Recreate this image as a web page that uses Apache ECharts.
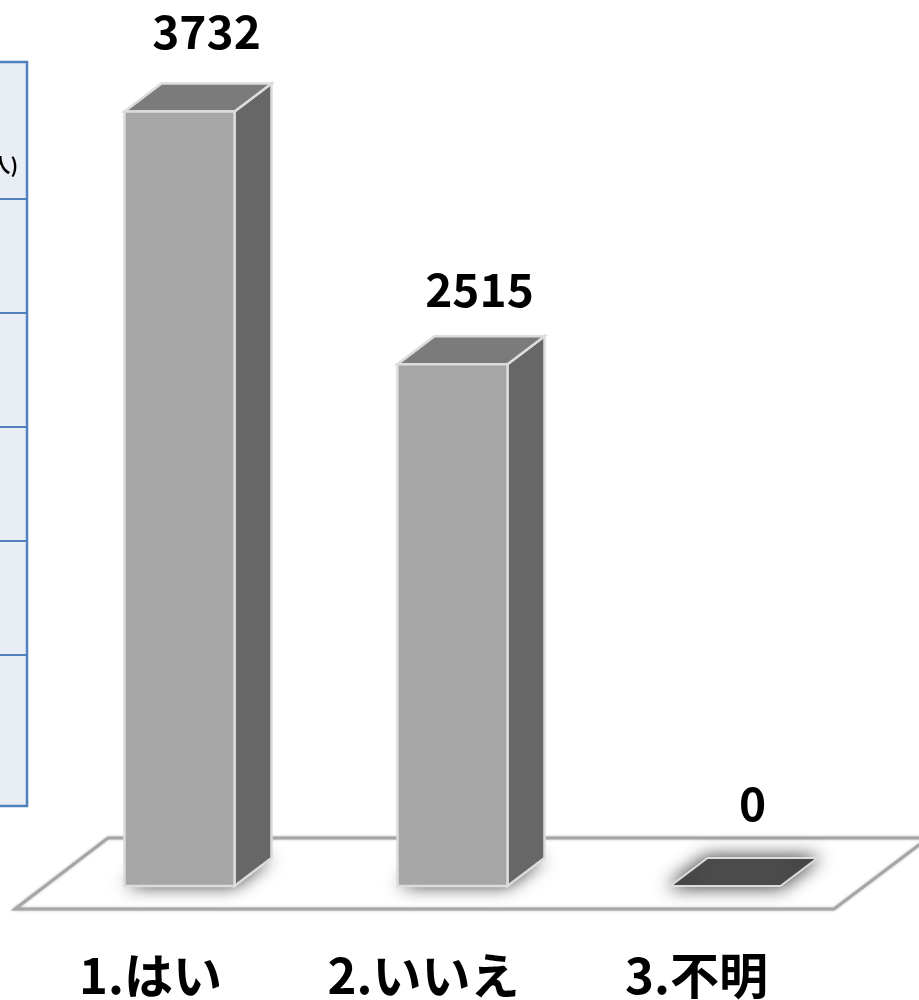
<!DOCTYPE html>
<html>
<head>
<meta charset="utf-8">
<style>
    html, body { margin: 0; padding: 0; background: #fff; }
    #main { width: 919px; height: 1000px; }
</style>
<script src="https://cdn.jsdelivr.net/npm/echarts@6/dist/echarts.min.js"></script>
</head>
<body>
<div id="main"></div>
<script>
var categories = ['1.はい', '2.いいえ', '3.不明'];
var answerCounts = [3732, 2515, 0];

var FONT = '"Noto Sans CJK JP", "Noto Sans", sans-serif';
var BAR_RATIO = 110 / 273;   // front face width / category band
var DEPTH_X = 37;
var DEPTH_Y = 28;
var EDGE = '#dcdcdc';
var LABEL_GAPS = [80, 75, 82];

var myChart = echarts.init(document.getElementById('main'), null, { renderer: 'canvas' });

function poly(points, style, z2) {
    return { type: 'polygon', shape: { points: points }, style: style, z2: z2 };
}

// 立体の棒: 床の影、前面、側面、上面、値ラベル
function renderBar(params, api) {
    var value = api.value(1);
    var base = api.coord([api.value(0), 0]);
    var top = api.coord([api.value(0), value]);
    var w = api.size([1, 0])[0] * BAR_RATIO;
    var x0 = base[0] - w / 2;
    var x1 = base[0] + w / 2;
    var y0 = base[1];
    var y1 = top[1];
    var children = [];

    children.push(poly(
        [[x0, y0], [x1, y0], [x1 + DEPTH_X, y0 - DEPTH_Y], [x0 + DEPTH_X, y0 - DEPTH_Y]],
        {
            fill: '#505050',
            stroke: value === 0 ? EDGE : 'none',
            lineWidth: 2,
            shadowBlur: 18,
            shadowColor: 'rgba(0,0,0,0.8)'
        },
        1
    ));

    if (value > 0) {
        children.push(poly(
            [[x1, y0], [x1 + DEPTH_X, y0 - DEPTH_Y], [x1 + DEPTH_X, y1 - DEPTH_Y], [x1, y1]],
            { fill: '#676767', stroke: EDGE, lineWidth: 2.5 },
            2
        ));
        children.push(poly(
            [[x0, y1], [x1, y1], [x1 + DEPTH_X, y1 - DEPTH_Y], [x0 + DEPTH_X, y1 - DEPTH_Y]],
            { fill: '#7b7b7b', stroke: EDGE, lineWidth: 2.5 },
            2
        ));
        children.push({
            type: 'rect',
            shape: { x: x0, y: y1, width: w, height: y0 - y1 },
            style: { fill: '#a6a6a6', stroke: EDGE, lineWidth: 2.5 },
            z2: 3
        });
    }

    children.push({
        type: 'text',
        x: base[0] + 27,
        y: y1 - LABEL_GAPS[params.dataIndex],
        style: {
            text: String(value),
            fill: '#000',
            font: 'bold 46px ' + FONT,
            align: 'center',
            verticalAlign: 'middle'
        },
        z2: 4
    });

    return { type: 'group', children: children };
}

// 左端の表（切り取られた部分）
var tableRows = [62, 199, 313, 427, 541, 655, 806];
var tableGraphics = [{
    type: 'rect',
    shape: { x: -4, y: 62, width: 31, height: 744 },
    style: { fill: '#e9edf4', stroke: '#4f81bd', lineWidth: 2.5 }
}, {
    type: 'text',
    x: 18,
    y: 165,
    style: { text: '(人)', fill: '#000', font: 'bold 20px ' + FONT, align: 'right', verticalAlign: 'middle' }
}];
for (var i = 1; i < tableRows.length - 1; i++) {
    tableGraphics.push({
        type: 'line',
        shape: { x1: 0, y1: tableRows[i], x2: 27, y2: tableRows[i] },
        style: { stroke: '#4f81bd', lineWidth: 2 }
    });
}

// 床
var floorGraphic = {
    type: 'polygon',
    shape: { points: [[15, 909], [834, 909], [928, 838], [108, 838]] },
    style: {
        fill: '#fff',
        stroke: '#a6a6a6',
        lineWidth: 3,
        shadowBlur: 3,
        shadowColor: 'rgba(0,0,0,0.25)'
    }
};

var option = {
    animation: false,
    backgroundColor: '#fff',
    graphic: { elements: tableGraphics.concat([floorGraphic]) },
    grid: { left: 43, top: 56, width: 819, height: 831 },
    xAxis: {
        type: 'category',
        data: categories,
        axisLine: { show: false },
        axisTick: { show: false },
        axisLabel: {
            margin: 65,
            color: '#000',
            fontSize: 49,
            fontWeight: 'bold',
            fontFamily: FONT,
            padding: [0, 58, 0, 0],
            interval: 0
        }
    },
    yAxis: {
        type: 'value',
        min: 0,
        max: 4000,
        show: false
    },
    series: [{
        type: 'custom',
        renderItem: renderBar,
        encode: { x: 0, y: 1 },
        clip: false,
        data: answerCounts.map(function (v, i) { return [i, v]; })
    }]
};

myChart.setOption(option);
window.addEventListener('resize', function () {
    myChart.resize();
});
</script>
</body>
</html>
